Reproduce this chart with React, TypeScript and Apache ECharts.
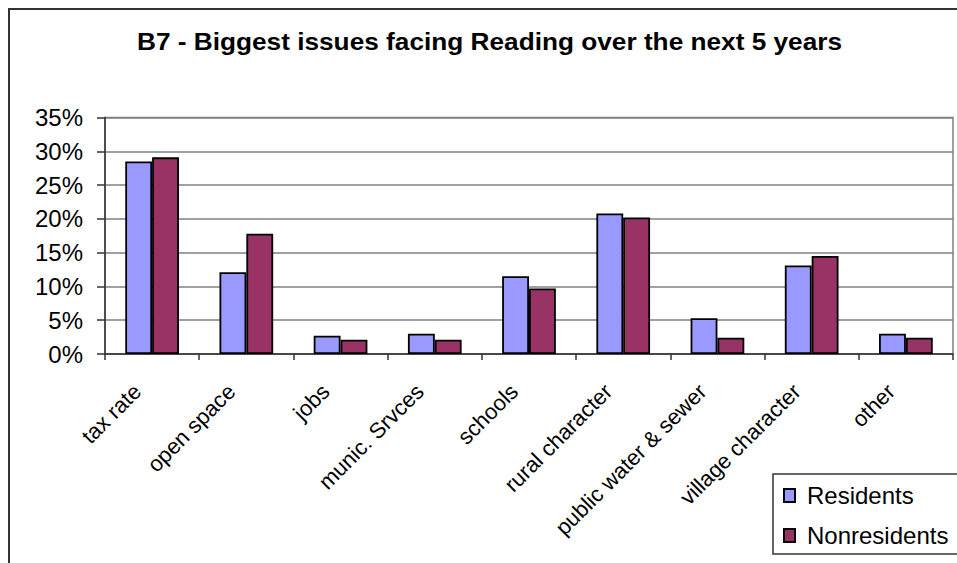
import React, { useEffect, useRef } from "react";
import * as echarts from "echarts";

const titleText = "B7 - Biggest issues facing Reading over the next 5 years";
const categories = [
  "tax rate",
  "open space",
  "jobs",
  "munic. Srvces",
  "schools",
  "rural character",
  "public water & sewer",
  "village character",
  "other",
];
const residents = [28.5, 12.1, 2.7, 3.0, 11.5, 20.8, 5.3, 13.1, 3.0];
const nonresidents = [29.1, 17.8, 2.1, 2.1, 9.7, 20.2, 2.4, 14.5, 2.4];
const seriesNames = ["Residents", "Nonresidents"];
const yMin = 0;
const yMax = 35;
const yInterval = 5;

const FONT = "'Liberation Sans', Arial, Helvetica, sans-serif";

export default function App() {
  const ref = useRef<HTMLDivElement>(null);
  useEffect(() => {
    if (!ref.current) return;
    const chart = echarts.init(ref.current, null, { renderer: "svg" });
    chart.setOption({
      animation: false,
      backgroundColor: "#ffffff",
      textStyle: { fontFamily: FONT },
      graphic: [
        {
          type: "rect",
          shape: { x: 9, y: 9, width: 1200, height: 1000 },
          style: { fill: "none", stroke: "#333333", lineWidth: 2 },
          silent: true,
          z: 0,
        },
        {
          type: "text",
          x: 489.5,
          y: 42,
          scaleX: 1.14,
          style: {
            text: titleText,
            fontFamily: FONT,
            fontSize: 23,
            fontWeight: "bold",
            fill: "#000000",
            textAlign: "center",
            textVerticalAlign: "middle",
          },
          z: 10,
        },
        {
          type: "rect",
          shape: { x: 773, y: 474, width: 300, height: 80 },
          style: { fill: "#ffffff", stroke: "#333333", lineWidth: 1.5 },
          z: 1,
        },
      ],
      grid: {
        left: 105,
        right: 4,
        top: 117.5,
        bottom: 209,
        show: true,
        borderColor: "#808080",
        borderWidth: 1.5,
        backgroundColor: "transparent",
      },
      legend: {
        orient: "vertical",
        left: 783,
        top: 483.5,
        padding: 0,
        itemWidth: 11,
        itemHeight: 13,
        itemGap: 16,
        icon: "rect",
        z: 5,
        textStyle: {
          fontFamily: FONT,
          fontSize: 24,
          lineHeight: 24,
          color: "#000000",
          padding: [0, 0, 0, 7],
        },
        data: seriesNames,
      },
      xAxis: {
        type: "category",
        data: categories,
        axisLine: { lineStyle: { color: "#333333", width: 1.5 } },
        axisTick: { show: true, length: 6, lineStyle: { color: "#333333", width: 1.5 } },
        axisLabel: {
          rotate: 45,
          fontFamily: FONT,
          fontSize: 22,
          color: "#000000",
          margin: 19,
          padding: [0, 21, 0, 0],
          interval: 0,
        },
        splitLine: { show: false },
      },
      yAxis: {
        type: "value",
        min: yMin,
        max: yMax,
        interval: yInterval,
        axisLine: { show: true, lineStyle: { color: "#333333", width: 1.5 } },
        axisTick: { show: true, length: 8, lineStyle: { color: "#333333", width: 1.5 } },
        axisLabel: {
          formatter: "{value}%",
          fontFamily: FONT,
          fontSize: 24,
          color: "#000000",
          margin: 22,
        },
        splitLine: { lineStyle: { color: "#808080", width: 1.5 } },
      },
      series: [
        {
          name: seriesNames[0],
          type: "bar",
          data: residents,
          barGap: "0%",
          barCategoryGap: "43%",
          itemStyle: { color: "#9999FF", borderColor: "#000000", borderWidth: 1.8 },
        },
        {
          name: seriesNames[1],
          type: "bar",
          data: nonresidents,
          barGap: "0%",
          barCategoryGap: "43%",
          itemStyle: { color: "#993366", borderColor: "#000000", borderWidth: 1.8 },
        },
      ],
    });
    return () => chart.dispose();
  }, []);
  return (
    <div
      ref={ref}
      style={{ position: "fixed", left: 0, top: 0, width: 957, height: 563 }}
    />
  );
}
